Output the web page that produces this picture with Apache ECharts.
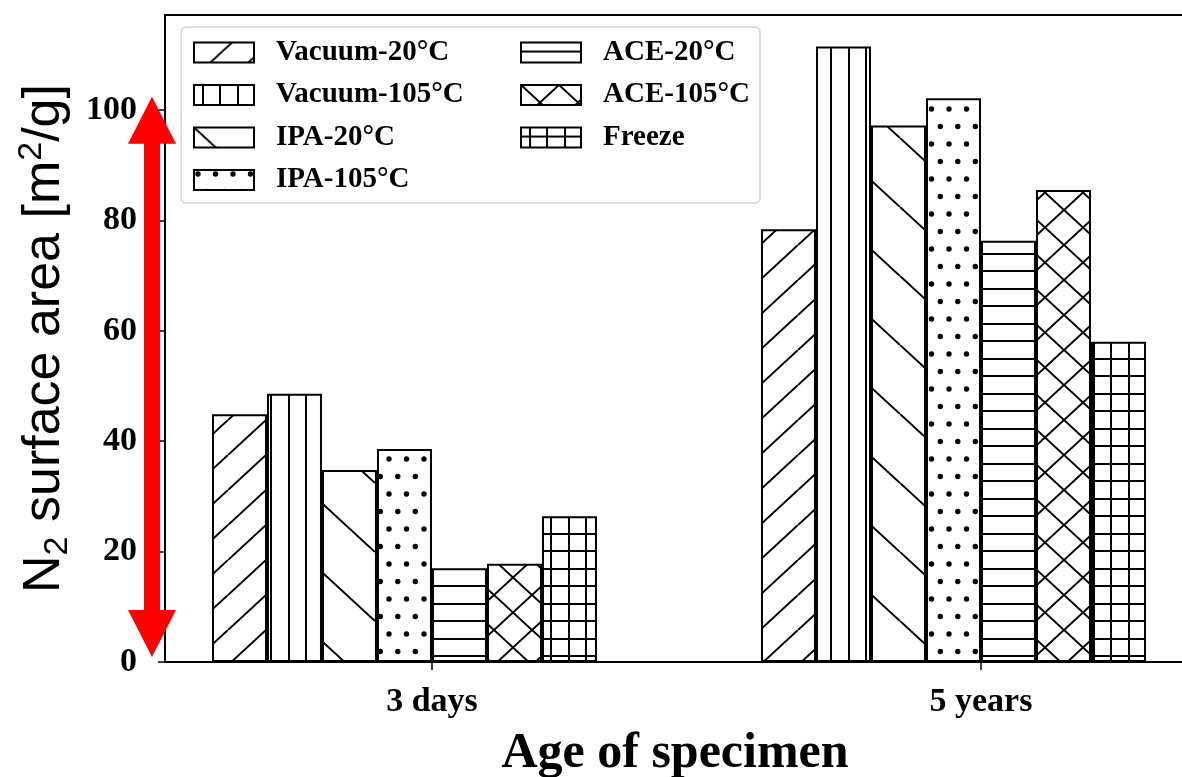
<!DOCTYPE html>
<html>
<head>
<meta charset="utf-8">
<script src="https://cdn.jsdelivr.net/npm/echarts@6/dist/echarts.min.js"></script>
<style>
html,body{margin:0;padding:0;background:#fff;}
#chart{width:1182px;height:777px;}
</style>
</head>
<body>
<div id="chart"></div>
<script>
// ---- data ----
const categories = ['3 days', '5 years'];
const seriesNames = ['Vacuum-20°C', 'Vacuum-105°C', 'IPA-20°C', 'IPA-105°C', 'ACE-20°C', 'ACE-105°C', 'Freeze'];
const vacuum20 = [44.9, 78.4];
const vacuum105 = [48.6, 111.5];
const ipa20 = [34.8, 97.2];
const ipa105 = [38.6, 102.1];
const ace20 = [17.0, 76.3];
const ace105 = [17.8, 85.5];
const freeze = [26.4, 58.0];
const yTicks = [0, 20, 40, 60, 80, 100];
const arrowSpan = [0.9, 102.4]; // red double arrow, in y units

// ---- hatch patterns ----
function makePattern(w, h, draw) {
  const c = document.createElement('canvas');
  c.width = w; c.height = h;
  const ctx = c.getContext('2d');
  ctx.fillStyle = '#fff'; ctx.fillRect(0, 0, w, h);
  ctx.strokeStyle = '#000'; ctx.fillStyle = '#000'; ctx.lineWidth = 2;
  draw(ctx, w, h);
  return { image: c, repeat: 'repeat' };
}
const pSlash = makePattern(38, 35, (ctx, w, h) => {
  ctx.beginPath();
  for (const dx of [-w, 0, w]) { ctx.moveTo(dx, h); ctx.lineTo(dx + w, 0); }
  ctx.stroke();
});
const pVert = makePattern(35, 35, (ctx, w, h) => {
  ctx.beginPath();
  for (const x of [9, 26]) { ctx.moveTo(x, 0); ctx.lineTo(x, h); }
  ctx.stroke();
});
const pBack = makePattern(75, 69, (ctx, w, h) => {
  ctx.beginPath();
  for (const dx of [-w, 0, w]) { ctx.moveTo(dx, 0); ctx.lineTo(dx + w, h); }
  ctx.stroke();
});
const pDots = makePattern(35, 35, (ctx) => {
  const pts = [[4, 4], [21.5, 4], [12.8, 21.5], [30.3, 21.5]];
  for (const [x, y] of pts) { ctx.beginPath(); ctx.arc(x, y, 2.7, 0, Math.PI * 2); ctx.fill(); }
});
const pHoriz = makePattern(35, 35, (ctx, w) => {
  ctx.beginPath();
  for (const y of [9, 26]) { ctx.moveTo(0, y); ctx.lineTo(w, y); }
  ctx.stroke();
});
const pCross = makePattern(38, 35, (ctx, w, h) => {
  ctx.beginPath();
  for (const dx of [-w, 0, w]) {
    ctx.moveTo(dx, h); ctx.lineTo(dx + w, 0);
    ctx.moveTo(dx, 0); ctx.lineTo(dx + w, h);
  }
  ctx.stroke();
});
const pGrid = makePattern(35, 35, (ctx, w, h) => {
  ctx.beginPath();
  for (const v of [9, 26]) { ctx.moveTo(0, v); ctx.lineTo(w, v); ctx.moveTo(v, 0); ctx.lineTo(v, h); }
  ctx.stroke();
});
const patterns = [pSlash, pVert, pBack, pDots, pHoriz, pCross, pGrid];
const seriesData = [vacuum20, vacuum105, ipa20, ipa105, ace20, ace105, freeze];

const serif = 'Liberation Serif';
const legendText = { fontFamily: serif, fontWeight: 'bold', fontSize: 29, color: '#000', lineHeight: 29, padding: [0, 0, 0, 17] };

const series = seriesNames.map((n, i) => ({
  type: 'bar',
  name: n,
  data: seriesData[i].map((v, j) => [j, v]),
  barWidth: 55,
  barGap: '0%',
  itemStyle: { color: patterns[i], borderColor: '#000', borderWidth: 2 },
  emphasis: { disabled: true }
}));
// empty slot so the tick sits between the 4th and 5th bar, as in the source figure
series.push({ type: 'bar', name: '_slot', data: [], barWidth: 55, barGap: '0%' });

const chart = echarts.init(document.getElementById('chart'));
const option = {
  animation: false,
  backgroundColor: '#fff',
  grid: { left: 165, top: 15, bottom: 115, right: -3, outerBoundsMode: 'none', containLabel: false,
    show: true, borderColor: '#000', borderWidth: 2, backgroundColor: 'transparent' },
  xAxis: {
    type: 'value',
    min: -0.4863, max: 1.3716,
    axisLine: { show: true, onZero: false, lineStyle: { color: '#000', width: 2 } },
    axisTick: { show: true, customValues: [0, 1], length: 8, lineStyle: { color: '#000', width: 1.5 } },
    axisLabel: { customValues: [0, 1], formatter: v => categories[Math.round(v)], margin: 23,
      fontFamily: serif, fontWeight: 'bold', fontSize: 34, color: '#000' },
    splitLine: { show: false },
    name: 'Age of specimen', nameLocation: 'middle', nameGap: 67,
    nameTextStyle: { fontFamily: serif, fontWeight: 'bold', fontSize: 50, color: '#000', lineHeight: 50 }
  },
  yAxis: {
    type: 'value',
    min: 0, max: 117.2,
    axisLine: { show: true, onZero: false, lineStyle: { color: '#000', width: 2 } },
    axisTick: { show: true, customValues: yTicks, length: 7, lineStyle: { color: '#000', width: 1.5 } },
    axisLabel: { customValues: yTicks, margin: 28, fontFamily: serif, fontWeight: 'bold', fontSize: 34, color: '#000' },
    splitLine: { show: false },
    name: '{a|N}{b|2}{a| surface area [m}{c|2}{a|/g]}',
    nameLocation: 'middle', nameGap: 86,
    nameTextStyle: {
      fontFamily: 'Liberation Sans', fontSize: 52, color: '#000',
      rich: {
        a: { fontFamily: 'Liberation Sans', fontSize: 52, lineHeight: 60, color: '#000' },
        b: { fontFamily: 'Liberation Sans', fontSize: 34, lineHeight: 34, verticalAlign: 'bottom', color: '#000' },
        c: { fontFamily: 'Liberation Sans', fontSize: 34, lineHeight: 34, verticalAlign: 'top', color: '#000' }
      }
    }
  },
  legend: [
    { data: seriesNames.slice(0, 4), orient: 'vertical', left: 193, top: 38, padding: 0,
      itemWidth: 60, itemHeight: 20, itemGap: 13.5, icon: 'rect', textStyle: legendText, selectedMode: false },
    { data: seriesNames.slice(4), orient: 'vertical', left: 520, top: 38, padding: 0,
      itemWidth: 60, itemHeight: 20, itemGap: 13.5, icon: 'rect', textStyle: legendText, selectedMode: false }
  ],
  series: series
};
chart.setOption(option);

// annotations: legend frame and red double arrow
const yTop = chart.convertToPixel({ yAxisIndex: 0 }, arrowSpan[1]);
const yBot = chart.convertToPixel({ yAxisIndex: 0 }, arrowSpan[0]);
const ax = 165 - 13;
const headL = 47, headW = 24, shaftW = 8;
const arrowPts = [
  [ax, yTop], [ax + headW, yTop + headL], [ax + shaftW, yTop + headL],
  [ax + shaftW, yBot - headL], [ax + headW, yBot - headL], [ax, yBot],
  [ax - headW, yBot - headL], [ax - shaftW, yBot - headL], [ax - shaftW, yTop + headL],
  [ax - headW, yTop + headL]
];
chart.setOption({
  graphic: [
    { type: 'rect', z: 3, shape: { x: 181, y: 27, width: 579, height: 176, r: 5 },
      style: { fill: 'rgba(255,255,255,0.85)', stroke: '#d4d4d4', lineWidth: 1.5 } },
    { type: 'polygon', z: 10, shape: { points: arrowPts }, style: { fill: '#ff0000' } }
  ]
});
</script>
</body>
</html>
